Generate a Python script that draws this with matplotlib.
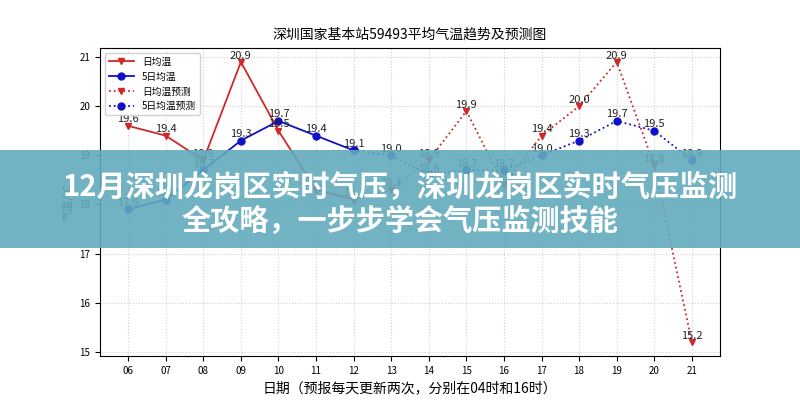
import matplotlib.pyplot as plt
from matplotlib.patches import Rectangle

plt.rcParams['font.family'] = ['Noto Sans CJK SC', 'DejaVu Sans']
plt.rcParams['axes.unicode_minus'] = False

# observed (06-12) and forecast (12-21)
obs_days = [6, 7, 8, 9, 10, 11, 12]
daily = [19.6, 19.4, 18.9, 20.9, 19.5, 18.3, 18.1]
avg5 = [17.9, 18.1, 18.7, 19.3, 19.7, 19.4, 19.1]

fc_days = [12, 13, 14, 15, 16, 17, 18, 19, 20, 21]
daily_fc = [18.1, 18.3, 18.9, 19.9, 18.4, 19.4, 20.0, 20.9, 18.8, 15.2]
avg5_fc = [19.1, 19.0, 18.6, 18.7, 18.7, 19.0, 19.3, 19.7, 19.5, 18.9]

all_days = list(range(6, 22))
tick_labels = [f"{d:02d}" for d in all_days]

red = '#d02828'
blue = '#1010c8'

fig, ax = plt.subplots(figsize=(8, 4), dpi=100)
fig.subplots_adjust(left=0.125, right=0.9, bottom=0.11, top=0.88)

ax.plot(obs_days, daily, color=red, marker='v', markersize=5, lw=1.3, label='日均温')
ax.plot(obs_days, avg5, color=blue, marker='o', markersize=5, lw=1.3, label='5日均温')
ax.plot(fc_days, daily_fc, color=red, marker='v', markersize=5, lw=1.3, ls=':', label='日均温预测')
ax.plot(fc_days, avg5_fc, color=blue, marker='o', markersize=5, lw=1.3, ls=':', label='5日均温预测')

for xs, ys in [(obs_days, daily), (obs_days, avg5), (fc_days[1:], daily_fc[1:]), (fc_days[1:], avg5_fc[1:])]:
    for x, y in zip(xs, ys):
        ax.text(x, y + 0.03, f"{y:.1f}", ha='center', va='bottom', fontsize=8, color='#222222')

ax.set_xticks(all_days)
ax.set_xticklabels(tick_labels)
ax.set_yticks(range(15, 22))
ax.tick_params(labelsize=7)
ax.grid(True, ls=':', color='#d0d0d0', lw=0.8)
ax.set_title('深圳国家基本站59493平均气温趋势及预测图', fontsize=10, pad=7)
ax.set_xlabel('日期（预报每天更新两次，分别在04时和16时）', fontsize=10)
ax.set_ylabel('气温/℃', fontsize=8)
ax.legend(loc='upper left', fontsize=7, framealpha=0.9, handlelength=2.6)

# banner overlay
fig.patches.append(Rectangle((0, 0.38), 1, 0.245, transform=fig.transFigure,
                             facecolor='#62aabd', alpha=0.9, zorder=10))
fig.text(0.5, 0.532, '12月深圳龙岗区实时气压，深圳龙岗区实时气压监测', ha='center', va='center',
         fontsize=21, fontweight='heavy', color='white', zorder=11)
fig.text(0.5, 0.447, '全攻略，一步步学会气压监测技能', ha='center', va='center',
         fontsize=21, fontweight='heavy', color='white', zorder=11)

fig.savefig('out.png', dpi=100)
